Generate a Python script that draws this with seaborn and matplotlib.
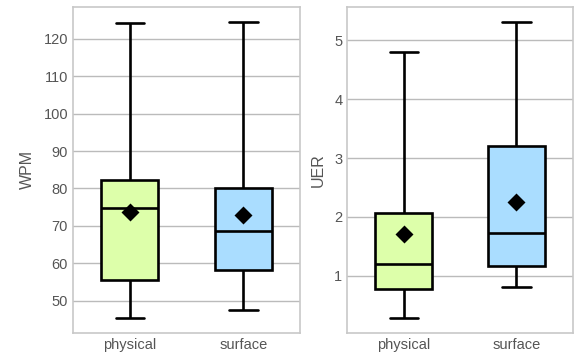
import pandas as pd
import matplotlib
matplotlib.use("Agg")
import matplotlib.pyplot as plt
import seaborn as sns

# five-number summaries: min, q1, median, q3, max
categories = ["physical", "surface"]
wpm_physical = [45.3, 55.6, 74.7, 82.3, 124.2]
wpm_surface = [47.4, 58.1, 68.7, 80.2, 124.6]
wpm_means = [73.8, 72.8]
uer_physical = [0.28, 0.77, 1.20, 2.07, 4.80]
uer_surface = [0.81, 1.17, 1.72, 3.20, 5.32]
uer_means = [1.71, 2.26]
wpm_ticks = [50, 60, 70, 80, 90, 100, 110, 120]
uer_ticks = [1, 2, 3, 4, 5]
colors = ["#ddffaa", "#aaddff"]

sns.set_theme(style="whitegrid")
plt.rcParams["font.family"] = ["Liberation Sans", "DejaVu Sans"]


def make_frame(first, second, name):
    return pd.DataFrame({
        "mode": [categories[0]] * len(first) + [categories[1]] * len(second),
        name: first + second,
    })


def draw(ax, df, name, means, ticks):
    sns.boxplot(data=df, x="mode", y=name, hue="mode", palette=colors,
                saturation=1, whis=(0, 100), width=0.5, linewidth=1.9,
                linecolor="black", legend=False, ax=ax)
    sns.pointplot(x=categories, y=means, linestyle="none", marker="D",
                  color="black", markersize=7, errorbar=None, ax=ax)
    ax.set_yticks(ticks)
    ax.set_xlabel("")
    ax.set_ylabel(name, fontsize=11.5, color="#555555", labelpad=6)
    ax.tick_params(axis="both", labelsize=10.5, colors="#555555", length=0)
    ax.grid(axis="y", color="#bbbbbb", linewidth=1)
    ax.grid(axis="x", visible=False)
    for s in ax.spines.values():
        s.set_color("#c8c8c8")
        s.set_linewidth(1.2)
    ax.set_xlim(-0.5, 1.5)


fig = plt.figure(figsize=(5.74, 3.6), dpi=100)
ax1 = fig.add_axes([0.127, 0.075, 0.396, 0.906])
ax2 = fig.add_axes([0.605, 0.075, 0.393, 0.906])

draw(ax1, make_frame(wpm_physical, wpm_surface, "WPM"), "WPM", wpm_means, wpm_ticks)
draw(ax2, make_frame(uer_physical, uer_surface, "UER"), "UER", uer_means, uer_ticks)

fig.savefig("out.png", dpi=100)
